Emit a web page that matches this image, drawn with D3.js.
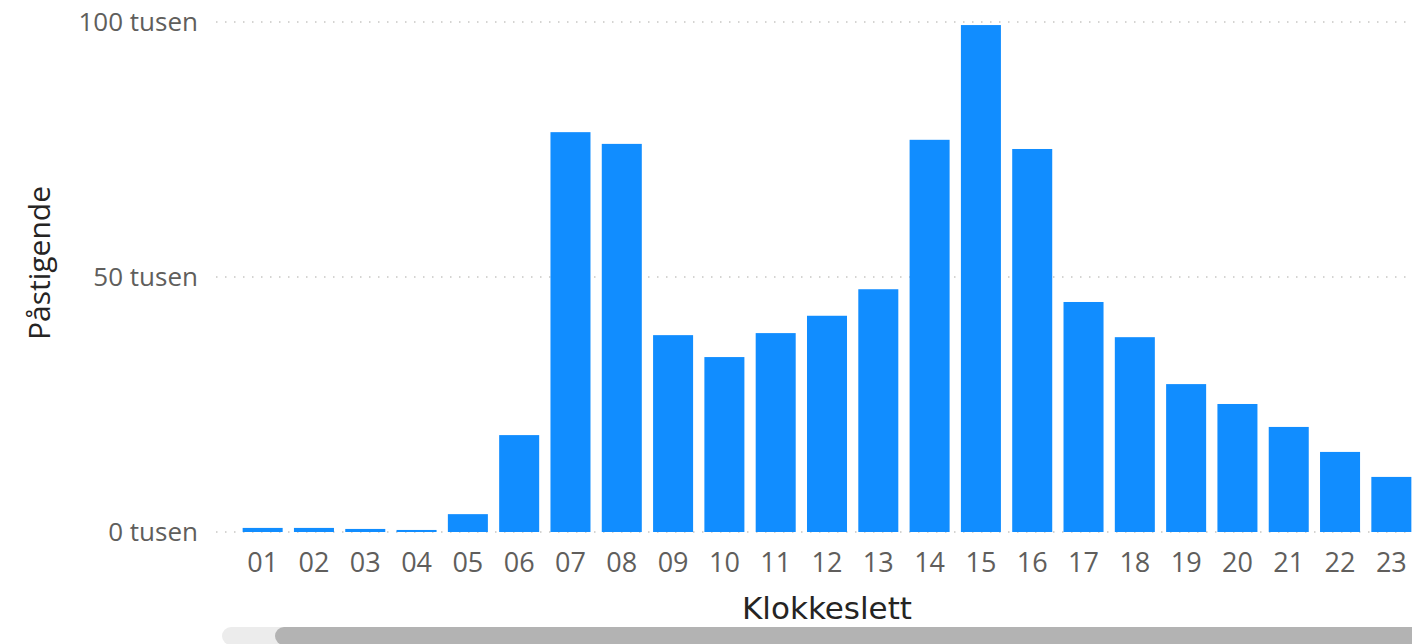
<!DOCTYPE html>
<html>
<head>
<meta charset="utf-8">
<script src="https://cdn.jsdelivr.net/npm/d3@7"></script>
<style>
  body { margin: 0; background: #fff; overflow: hidden; }
  svg { display: block; }
</style>
</head>
<body>
<svg id="chart" width="1412" height="644"></svg>
<script>
var hours = ["01", "02", "03", "04", "05", "06", "07", "08", "09", "10", "11", "12",
             "13", "14", "15", "16", "17", "18", "19", "20", "21", "22", "23"];
var boardings = [800, 800, 600, 400, 3500, 19000, 78400, 76100, 38600, 34300, 39000, 42400,
                 47600, 76900, 99400, 75100, 45100, 38200, 29000, 25100, 20600, 15700, 10800];
var yTicks = [0, 50000, 100000];

var svg = d3.select("#chart");

var x = d3.scaleBand()
    .domain(hours)
    .range([237, 1417])
    .paddingInner(0.22)
    .paddingOuter(0.11);

var y = d3.scaleLinear()
    .domain([0, 100000])
    .range([532, 22]);

// dotted gridlines
svg.append("g")
  .selectAll("line")
  .data(yTicks)
  .join("line")
    .attr("x1", 216)
    .attr("x2", 1412)
    .attr("y1", function(d) { return y(d); })
    .attr("y2", function(d) { return y(d); })
    .attr("stroke", "#c8c6c4")
    .attr("stroke-width", 1.5)
    .attr("stroke-dasharray", "1.5,7.5");

// y axis labels
var yAxis = svg.append("g")
    .attr("transform", "translate(198,0)")
    .call(d3.axisLeft(y).tickValues(yTicks).tickSize(0).tickPadding(0)
      .tickFormat(function(d) { return (d / 1000) + " tusen"; }));
yAxis.select(".domain").remove();
yAxis.selectAll("text")
    .attr("fill", "#605e5c")
    .style("font-family", "'Open Sans', sans-serif")
    .style("font-size", "26px");

// bars
svg.append("g")
  .selectAll("rect")
  .data(boardings)
  .join("rect")
    .attr("x", function(d, i) { return x(hours[i]); })
    .attr("width", x.bandwidth())
    .attr("y", function(d) { return y(d); })
    .attr("height", function(d) { return y(0) - y(d); })
    .attr("fill", "#118dff");

// x axis labels
var xAxis = svg.append("g")
    .attr("transform", "translate(0,572)")
    .call(d3.axisBottom(x).tickSize(0).tickPadding(0));
xAxis.select(".domain").remove();
xAxis.selectAll("text")
    .attr("fill", "#605e5c")
    .attr("dy", "0")
    .style("font-family", "'Open Sans', sans-serif")
    .style("font-size", "27px");

// axis titles
svg.append("text")
    .attr("x", 827)
    .attr("y", 619)
    .attr("text-anchor", "middle")
    .attr("fill", "#252423")
    .style("font-family", "'DejaVu Sans', sans-serif")
    .style("font-size", "31px")
    .text("Klokkeslett");

svg.append("text")
    .attr("transform", "translate(50,263) rotate(-90)")
    .attr("text-anchor", "middle")
    .attr("fill", "#252423")
    .style("font-family", "'Open Sans', sans-serif")
    .style("font-size", "30px")
    .text("Påstigende");

// scrollbar
svg.append("rect")
    .attr("x", 222).attr("y", 627)
    .attr("width", 1210).attr("height", 18)
    .attr("rx", 9)
    .attr("fill", "#ececec");
svg.append("rect")
    .attr("x", 275).attr("y", 627)
    .attr("width", 1157).attr("height", 18)
    .attr("rx", 9)
    .attr("fill", "#b3b3b3");
</script>
</body>
</html>
